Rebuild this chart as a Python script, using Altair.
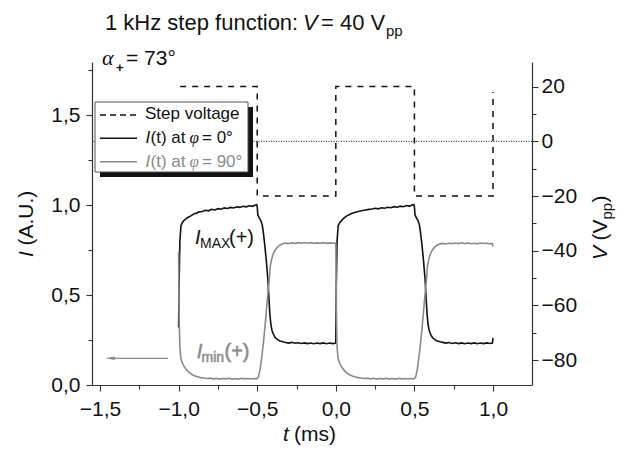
import altair as alt
import pandas as pd

# ---------------- data ----------------
T_BLACK = [-1.000, -0.997, -0.992, -0.985, -0.975, -0.965, -0.955, -0.945, -0.930, -0.915, -0.900, -0.885,
           -0.870, -0.850, -0.830, -0.810, -0.790, -0.770, -0.750, -0.730, -0.710, -0.690, -0.670, -0.650,
           -0.630, -0.610, -0.590, -0.570, -0.550, -0.530, -0.515, -0.503,
           -0.500, -0.496, -0.488, -0.478, -0.468, -0.460, -0.451, -0.442, -0.432, -0.426, -0.420, -0.413,
           -0.405, -0.395, -0.385, -0.370, -0.355, -0.337,
           -0.320, -0.300, -0.280, -0.260, -0.240, -0.220, -0.200, -0.180, -0.160, -0.140, -0.120, -0.100,
           -0.080, -0.060, -0.040, -0.020, -0.004,
           0.000, 0.003, 0.008, 0.015, 0.025, 0.035, 0.045, 0.055, 0.070, 0.085, 0.100, 0.115, 0.130, 0.150,
           0.170, 0.190, 0.210, 0.230, 0.250, 0.270, 0.290, 0.310, 0.330, 0.350, 0.370, 0.390, 0.410, 0.430,
           0.450, 0.470, 0.485, 0.497,
           0.500, 0.504, 0.512, 0.522, 0.532, 0.540, 0.549, 0.558, 0.568, 0.574, 0.580, 0.587, 0.595, 0.605,
           0.615, 0.630, 0.645, 0.663,
           0.680, 0.700, 0.720, 0.740, 0.760, 0.780, 0.800, 0.820, 0.840, 0.860, 0.880, 0.900, 0.920, 0.940,
           0.960, 0.980, 0.996, 1.000]
I_BLACK = [0.320, 0.550, 0.800, 0.885, 0.905, 0.915, 0.922, 0.930, 0.936, 0.944, 0.952, 0.955,
           0.962, 0.964, 0.971, 0.968, 0.976, 0.973, 0.980, 0.977, 0.984, 0.981, 0.987, 0.984,
           0.990, 0.987, 0.993, 0.990, 0.996, 0.993, 0.999, 1.002,
           0.990, 0.945, 0.930, 0.915, 0.890, 0.840, 0.770, 0.690, 0.585, 0.490, 0.400, 0.335,
           0.300, 0.278, 0.263, 0.252, 0.245, 0.240,
           0.236, 0.233, 0.237, 0.232, 0.235, 0.231, 0.234, 0.230, 0.233, 0.229, 0.233, 0.230,
           0.234, 0.229, 0.233, 0.230, 0.232,
           0.240, 0.550, 0.800, 0.885, 0.902, 0.912, 0.922, 0.930, 0.940, 0.946, 0.953, 0.957, 0.962, 0.966,
           0.970, 0.973, 0.976, 0.978, 0.982, 0.979, 0.985, 0.982, 0.988, 0.985, 0.991, 0.988, 0.994, 0.991,
           0.997, 0.994, 1.000, 1.002,
           0.990, 0.945, 0.930, 0.915, 0.890, 0.840, 0.770, 0.690, 0.585, 0.490, 0.400, 0.335, 0.300, 0.278,
           0.263, 0.252, 0.245, 0.240,
           0.237, 0.233, 0.236, 0.231, 0.235, 0.230, 0.234, 0.229, 0.233, 0.230, 0.234, 0.229, 0.233, 0.230,
           0.234, 0.231, 0.233, 0.262]

T_GRAY = [-1.000, -0.999, -0.996, -0.992, -0.986, -0.980, -0.970, -0.958, -0.945, -0.930, -0.915, -0.900,
          -0.880, -0.860, -0.840, -0.820, -0.800, -0.780, -0.760, -0.740, -0.720, -0.700, -0.680, -0.660,
          -0.640, -0.620, -0.600, -0.580, -0.560, -0.540, -0.520, -0.505,
          -0.500, -0.492, -0.482, -0.472, -0.460, -0.450, -0.440, -0.432, -0.424, -0.417, -0.408, -0.400,
          -0.390, -0.375, -0.360, -0.340,
          -0.320, -0.300, -0.280, -0.260, -0.240, -0.220, -0.200, -0.180, -0.160, -0.140, -0.120, -0.100,
          -0.080, -0.060, -0.040, -0.020, -0.004,
          0.000, 0.002, 0.004, 0.008, 0.014, 0.020, 0.030, 0.042, 0.055, 0.070, 0.085, 0.100, 0.120, 0.140,
          0.160,
          0.180, 0.200, 0.220, 0.240, 0.260, 0.280, 0.300, 0.320, 0.340, 0.360, 0.380, 0.400, 0.420, 0.440,
          0.460, 0.480, 0.495,
          0.500, 0.508, 0.518, 0.528, 0.540, 0.550, 0.560, 0.568, 0.576, 0.583, 0.592, 0.600, 0.610, 0.625,
          0.640, 0.660,
          0.680, 0.700, 0.720, 0.740, 0.760, 0.780, 0.800, 0.820, 0.840, 0.860, 0.880, 0.900, 0.920, 0.940,
          0.960, 0.980, 0.995, 1.000]
I_GRAY = [0.740, 0.600, 0.350, 0.210, 0.150, 0.130, 0.110, 0.094, 0.080, 0.068, 0.058, 0.052,
          0.046, 0.041, 0.039, 0.036, 0.038, 0.034, 0.037, 0.033, 0.036, 0.034, 0.037, 0.033,
          0.036, 0.033, 0.037, 0.034, 0.036, 0.033, 0.036, 0.034,
          0.036, 0.045, 0.085, 0.150, 0.240, 0.330, 0.430, 0.510, 0.580, 0.660, 0.700, 0.725,
          0.745, 0.762, 0.775, 0.785,
          0.789, 0.786, 0.790, 0.787, 0.791, 0.788, 0.792, 0.788, 0.791, 0.787, 0.790, 0.788,
          0.791, 0.787, 0.790, 0.788, 0.789,
          0.780, 0.600, 0.400, 0.210, 0.150, 0.130, 0.110, 0.094, 0.080, 0.068, 0.058, 0.052, 0.046, 0.041,
          0.039,
          0.036, 0.038, 0.034, 0.037, 0.033, 0.036, 0.034, 0.037, 0.033, 0.036, 0.033, 0.037, 0.034, 0.036,
          0.033, 0.036, 0.034,
          0.036, 0.045, 0.085, 0.150, 0.240, 0.330, 0.430, 0.510, 0.580, 0.660, 0.700, 0.725, 0.745, 0.762,
          0.775, 0.783,
          0.787, 0.784, 0.788, 0.785, 0.789, 0.786, 0.790, 0.786, 0.789, 0.785, 0.788, 0.785, 0.789, 0.786,
          0.788, 0.785, 0.787, 0.770]

T_STEP = [-0.99, -0.5, -0.5, 0.0, 0.0, 0.5, 0.5, 1.0, 1.0]
V_STEP = [20, 20, -20, -20, 20, 20, -20, -20, 18]
V_ZERO = [0]

X_TICKS = [-1.5, -1.25, -1.0, -0.75, -0.5, -0.25, 0.0, 0.25, 0.5, 0.75, 1.0, 1.25]
I_TICKS = [0.0, 0.25, 0.5, 0.75, 1.0, 1.25, 1.5, 1.75]
V_TICKS = [-80, -70, -60, -50, -40, -30, -20, -10, 0, 10, 20]

# ---------------- styling ----------------
FONT = "Liberation Sans"
SERIF = "Liberation Serif"
INK = "#111111"
GRAY = "#8a8a8a"
AXC = "#333333"

df_black = pd.DataFrame({"t": T_BLACK, "i": I_BLACK, "k": list(range(len(T_BLACK)))})
df_gray = pd.DataFrame({"t": T_GRAY, "i": I_GRAY, "k": list(range(len(T_GRAY)))})
df_step = pd.DataFrame({"t": T_STEP, "v": V_STEP, "k": list(range(len(T_STEP)))})
df_zero = pd.DataFrame({"v": V_ZERO})
ONE = pd.DataFrame({"d": [0]})

half = "abs(datum.value*2 - round(datum.value*2)) < 0.001"
common_axis = dict(
    title=None, grid=False, labelFont=FONT, labelFontSize=21, labelColor=INK,
    domainColor=AXC, domainWidth=1.2, tickColor=AXC, tickWidth=1.1,
    labelOverlap=False, labelFlush=False,
)

x_enc = alt.X("t:Q",
              scale=alt.Scale(domain=[-1.551, 1.248], nice=False, zero=False),
              axis=alt.Axis(values=X_TICKS, orient="bottom", labelPadding=7,
                            labelExpr=f"{half} ? replace(format(datum.value, '.1f'), '.', ',') : ''",
                            tickSize={"condition": {"test": half, "value": 6}, "value": 4},
                            **common_axis))
yi_enc = alt.Y("i:Q",
               scale=alt.Scale(domain=[0, 1.795], nice=False, zero=False),
               axis=alt.Axis(values=I_TICKS, orient="left", labelPadding=6,
                             labelExpr=f"{half} ? replace(format(datum.value, '.1f'), '.', ',') : ''",
                             tickSize={"condition": {"test": half, "value": 6}, "value": 4},
                             **common_axis))
yv_enc = alt.Y("v:Q",
               scale=alt.Scale(domain=[-89.1, 29], nice=False, zero=False),
               axis=alt.Axis(values=V_TICKS, orient="right", labelPadding=3,
                             labelExpr="datum.value % 20 === 0 ? format(datum.value, 'd') : ''",
                             tickSize={"condition": {"test": "datum.value % 20 === 0", "value": 6}, "value": 4},
                             **common_axis))

black = alt.Chart(df_black).mark_line(color=INK, strokeWidth=1.6).encode(x=x_enc, y=yi_enc, order="k:Q")
gray = alt.Chart(df_gray).mark_line(color=GRAY, strokeWidth=1.6).encode(x=x_enc, y=yi_enc, order="k:Q")
left = alt.layer(black, gray)

step = alt.Chart(df_step).mark_line(color=INK, strokeWidth=1.5, strokeDash=[6, 6]).encode(
    x=x_enc, y=yv_enc, order="k:Q")
zero = alt.Chart(df_zero).mark_rule(color=INK, strokeWidth=1, strokeDash=[1, 1.5]).encode(y=yv_enc)
right = alt.layer(zero, step)


def txt(s, x, y, size=21, color=INK, style="normal", angle=0, font=FONT, weight="normal", heavy=False):
    kw = dict(text=s, align="left", baseline="alphabetic", font=font, fontSize=size,
              fontStyle=style, fontWeight=weight, color=color, angle=angle)
    if heavy:
        kw["stroke"] = color
        kw["strokeWidth"] = 0.5
    return alt.Chart(ONE).mark_text(**kw).encode(x=alt.value(x), y=alt.value(y))


def hline(x1, x2, y, color=INK, dash=None, width=1.6):
    kw = dict(color=color, strokeWidth=width)
    if dash:
        kw["strokeDash"] = dash
    return alt.Chart(ONE).mark_rule(**kw).encode(x=alt.value(x1), x2=alt.value(x2), y=alt.value(y))


annots = [
    # title
    txt("1 kHz step function: ", 13, -32, size=22),
    txt("V", 211, -32, size=22, style="italic"),
    txt("= 40 V", 229, -32, size=22),
    txt("pp", 294, -26, size=15),
    # alpha label
    txt("α", 10, 3, size=22, style="italic", font=SERIF),
    txt("+", 24, 10, size=13, weight="bold"),
    txt("= 73°", 34, 3, size=21),
    # axis titles
    txt("I", -59, 195, style="italic", angle=270),
    txt("(A.U.)", -59, 183.5, angle=270),
    txt("V", 515, 198, style="italic", angle=270),
    txt("(V", 515, 178.5, angle=270),
    txt("pp", 520, 157.5, size=15, angle=270),
    txt(")", 515, 140.5, angle=270),
    txt("t", 191, 379, style="italic"),
    txt("(ms)", 202, 379),
    # curve labels
    txt("I", 103, 182.3, size=20, style="italic"),
    txt("MAX", 108, 186.3, size=14),
    txt("(+)", 137, 182.3, size=20),
    txt("I", 104.7, 296.3, size=20, style="italic", color=GRAY, heavy=True),
    txt("min", 109.5, 299.5, size=14, color=GRAY, heavy=True),
    txt("(+)", 132.5, 296.3, size=20, color=GRAY, heavy=True),
    # arrow
    hline(18, 76, 296.3, color=GRAY, width=1.2),
    alt.Chart(ONE).mark_point(shape="M -1 0 L 1 -0.35 L 1 0.35 Z", filled=True, size=100,
                              color=GRAY, opacity=1).encode(x=alt.value(18), y=alt.value(296.3)),
    # legend
    alt.Chart(ONE).mark_rect(color="#111111").encode(
        x=alt.value(8), x2=alt.value(161), y=alt.value(45), y2=alt.value(115)),
    alt.Chart(ONE).mark_rect(fill="white", stroke="#555555", strokeWidth=1).encode(
        x=alt.value(3), x2=alt.value(156), y=alt.value(40), y2=alt.value(110)),
    hline(8, 45, 53, dash=[6, 4], width=1.5),
    txt("Step voltage", 53, 57.3, size=17),
    hline(8, 45, 76.3),
    txt("I", 53.5, 81.3, size=17, style="italic"),
    txt("(t) at", 58.5, 81.3, size=17),
    txt("φ", 97.5, 81.3, size=17, style="italic", font=SERIF),
    txt("= 0°", 110, 81.3, size=17),
    hline(8, 45, 99.7, color=GRAY),
    txt("I", 53.5, 104.7, size=17, style="italic", color=GRAY),
    txt("(t) at", 58.5, 104.7, size=17, color=GRAY),
    txt("φ", 97.5, 104.7, size=17, style="italic", font=SERIF, color=GRAY),
    txt("= 90°", 110, 104.7, size=17, color=GRAY),
]

chart = alt.layer(left, right, *annots).resolve_scale(y="independent").properties(
    width=440, height=323,
    padding={"left": 92, "top": 62, "right": 93, "bottom": 65},
    autosize=alt.AutoSizeParams(type="none"),
    background="white",
).configure_view(stroke="transparent")

chart.save("out.html", embed_options={"renderer": "svg", "actions": False})
